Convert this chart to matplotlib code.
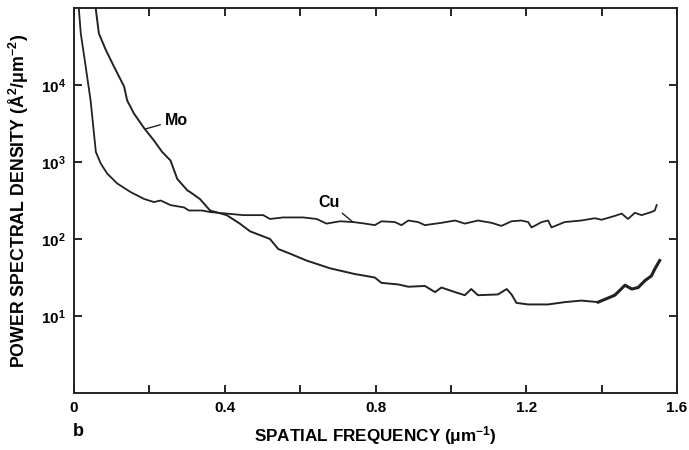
import numpy as np
import matplotlib
matplotlib.use('Agg')
import matplotlib.pyplot as plt

plt.rcParams['font.family'] = ['Liberation Sans', 'DejaVu Sans']
plt.rcParams['font.weight'] = 'bold'
plt.rcParams['mathtext.fontset'] = 'custom'
plt.rcParams['mathtext.rm'] = 'Liberation Sans:bold'
plt.rcParams['mathtext.it'] = 'Liberation Sans:bold'
plt.rcParams['mathtext.bf'] = 'Liberation Sans:bold'

# Mo curve (spatial frequency in 1/um, log10 of PSD)
mo_f = [0.058, 0.066, 0.084, 0.106, 0.133, 0.141, 0.159, 0.186, 0.212, 0.234, 0.256,
        0.274, 0.301, 0.308, 0.334, 0.361, 0.405, 0.440, 0.467, 0.520, 0.542, 0.573,
        0.617, 0.679, 0.723, 0.745, 0.798, 0.816, 0.860, 0.887, 0.931, 0.958, 0.975,
        1.011, 1.037, 1.054, 1.072, 1.125, 1.148, 1.161, 1.174, 1.205, 1.258, 1.302,
        1.346, 1.391, 1.435, 1.462, 1.480, 1.497, 1.515, 1.532, 1.541, 1.554]
mo_log = [4.98, 4.67, 4.46, 4.24, 3.98, 3.80, 3.63, 3.44, 3.28, 3.13, 3.02,
          2.78, 2.63, 2.61, 2.52, 2.37, 2.31, 2.20, 2.10, 2.00, 1.87, 1.81,
          1.72, 1.62, 1.57, 1.545, 1.50, 1.43, 1.41, 1.38, 1.39, 1.31, 1.37,
          1.31, 1.27, 1.35, 1.27, 1.28, 1.35, 1.28, 1.17, 1.15, 1.15, 1.18,
          1.20, 1.18, 1.27, 1.40, 1.35, 1.37, 1.46, 1.52, 1.61, 1.72]

# Cu curve
cu_f = [0.013, 0.018, 0.031, 0.044, 0.053, 0.058, 0.071, 0.088, 0.115, 0.150, 0.186,
        0.212, 0.230, 0.256, 0.292, 0.305, 0.340, 0.361, 0.405, 0.449, 0.502, 0.520,
        0.555, 0.608, 0.644, 0.670, 0.706, 0.741, 0.772, 0.798, 0.816, 0.851, 0.869,
        0.887, 0.913, 0.931, 0.975, 1.011, 1.037, 1.072, 1.108, 1.134, 1.161, 1.187,
        1.205, 1.214, 1.241, 1.258, 1.267, 1.302, 1.346, 1.382, 1.400, 1.435, 1.453,
        1.470, 1.488, 1.506, 1.532, 1.541, 1.546]
cu_log = [4.98, 4.67, 4.24, 3.80, 3.37, 3.13, 2.98, 2.85, 2.72, 2.61, 2.52,
          2.48, 2.50, 2.44, 2.41, 2.37, 2.37, 2.35, 2.33, 2.31, 2.31, 2.26,
          2.28, 2.28, 2.26, 2.20, 2.23, 2.22, 2.20, 2.18, 2.23, 2.22, 2.18,
          2.24, 2.22, 2.18, 2.21, 2.24, 2.20, 2.24, 2.21, 2.17, 2.23, 2.24,
          2.22, 2.15, 2.22, 2.24, 2.15, 2.22, 2.24, 2.27, 2.25, 2.30, 2.33,
          2.26, 2.34, 2.31, 2.35, 2.37, 2.44]

mo_f = np.array(mo_f)
mo_psd = 10 ** np.array(mo_log)
cu_psd = 10 ** np.array(cu_log)

fig = plt.figure(figsize=(6.89, 4.5), dpi=100)
ax = fig.add_axes([0.1074, 0.1267, 0.8752, 0.8555])

ink = '#222222'
ax.plot(mo_f, mo_psd, color=ink, lw=1.4)
tail = mo_f >= 1.39
ax.plot(mo_f[tail], mo_psd[tail], color=ink, lw=2.2)  # heavier noisy end
ax.plot(cu_f, cu_psd, color=ink, lw=1.3)

ax.set_yscale('log')
ax.set_xlim(0, 1.6)
ax.set_ylim(1, 1e5)

ax.set_xticks(np.arange(0, 1.61, 0.2))
ax.set_xticklabels(['0', '', '0.4', '', '0.8', '', '1.2', '', '1.6'])
ax.set_yticks([10, 100, 1000, 10000])
ax.set_yticklabels(['$10^1$', '$10^2$', '$10^3$', '$10^4$'])
ax.minorticks_off()
ax.tick_params(direction='in', length=6, width=1.2, top=True, right=True,
               labelsize=11, pad=6)
for s in ax.spines.values():
    s.set_linewidth(1.4)
    s.set_color(ink)

ax.set_xlabel('SPATIAL FREQUENCY ($\\mu$m$^{-1}$)', fontsize=12.3, fontweight='bold', labelpad=6)
ax.set_ylabel('POWER SPECTRAL DENSITY (\u00c5$^{2}$/$\\mu$m$^{-2}$)', fontsize=12.8,
              fontweight='bold', labelpad=7)

# curve labels with leader lines
ax.annotate('Mo', xy=(0.19, 10 ** 3.43), xytext=(0.24, 10 ** 3.54),
            fontsize=11.5, fontweight='bold', va='center', ha='left',
            arrowprops=dict(arrowstyle='-', color=ink, lw=1.0, shrinkA=1, shrinkB=0))
ax.annotate('Cu', xy=(0.74, 10 ** 2.22), xytext=(0.705, 10 ** 2.48),
            fontsize=11.5, fontweight='bold', va='center', ha='right',
            arrowprops=dict(arrowstyle='-', color=ink, lw=1.0, shrinkA=1, shrinkB=0))

fig.text(0.106, 0.03, 'b', fontsize=13, fontweight='bold')

fig.savefig('out.png', dpi=100)
